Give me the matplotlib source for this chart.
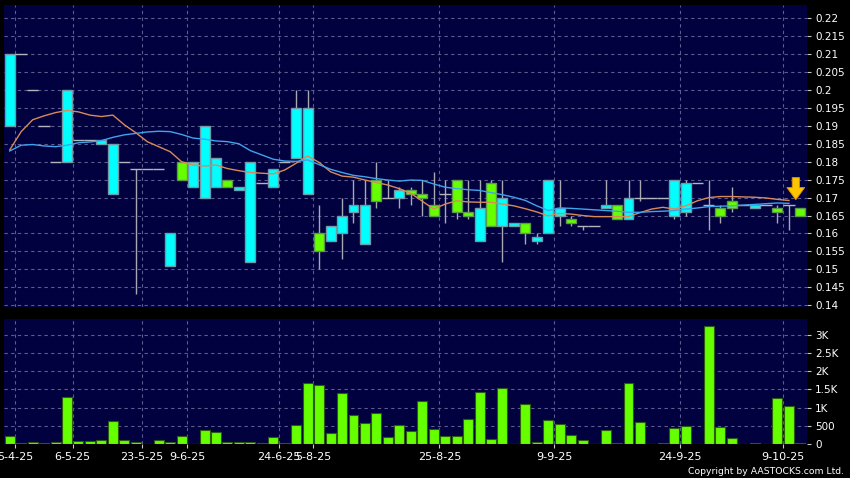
import numpy as np
import matplotlib
matplotlib.use("Agg")
import matplotlib.pyplot as plt
from matplotlib.patches import Rectangle

# daily prices (one entry per trading slot)
opens = [0.210, 0.210, 0.200, 0.190, 0.180, 0.200, 0.186, 0.186, 0.186, 0.185,
         0.180, 0.178, 0.178, 0.178, 0.160, 0.175, 0.180, 0.190, 0.181, 0.173,
         0.173, 0.180, 0.174, 0.178, 0.180, 0.195, 0.195, 0.155, 0.162, 0.165,
         0.168, 0.168, 0.169, 0.170, 0.172, 0.171, 0.170, 0.165, 0.171, 0.166,
         0.165, 0.167, 0.162, 0.170, 0.163, 0.160, 0.159, 0.175, 0.167, 0.163,
         0.162, 0.162, 0.168, 0.164, 0.170, 0.170, 0.170, 0.170, 0.175, 0.174,
         0.174, 0.168, 0.165, 0.167, 0.168, 0.168, 0.168, 0.166, 0.168, 0.165]
closes = [0.190, 0.210, 0.200, 0.190, 0.180, 0.180, 0.186, 0.186, 0.185, 0.171,
          0.180, 0.178, 0.178, 0.178, 0.151, 0.180, 0.173, 0.170, 0.173, 0.175,
          0.172, 0.152, 0.174, 0.173, 0.180, 0.181, 0.171, 0.160, 0.158, 0.160,
          0.166, 0.157, 0.175, 0.170, 0.170, 0.172, 0.171, 0.168, 0.171, 0.175,
          0.166, 0.158, 0.174, 0.162, 0.162, 0.163, 0.158, 0.160, 0.165, 0.164,
          0.162, 0.162, 0.167, 0.168, 0.164, 0.170, 0.170, 0.170, 0.165, 0.166,
          0.174, 0.168, 0.167, 0.169, 0.168, 0.167, 0.168, 0.167, 0.168, 0.167]
highs = [0.210, 0.210, 0.200, 0.190, 0.180, 0.200, 0.186, 0.186, 0.186, 0.185,
         0.180, 0.178, 0.178, 0.178, 0.160, 0.180, 0.180, 0.190, 0.181, 0.175,
         0.173, 0.180, 0.174, 0.178, 0.180, 0.200, 0.200, 0.168, 0.162, 0.170,
         0.175, 0.175, 0.180, 0.175, 0.173, 0.173, 0.175, 0.177, 0.175, 0.175,
         0.175, 0.175, 0.175, 0.175, 0.163, 0.163, 0.160, 0.175, 0.175, 0.165,
         0.162, 0.162, 0.175, 0.168, 0.175, 0.175, 0.170, 0.170, 0.175, 0.175,
         0.174, 0.175, 0.168, 0.173, 0.168, 0.168, 0.168, 0.168, 0.168, 0.167]
lows = [0.190, 0.210, 0.200, 0.190, 0.180, 0.180, 0.186, 0.186, 0.185, 0.171,
        0.180, 0.143, 0.178, 0.178, 0.151, 0.175, 0.173, 0.170, 0.173, 0.173,
        0.172, 0.152, 0.174, 0.173, 0.180, 0.181, 0.171, 0.150, 0.158, 0.153,
        0.163, 0.157, 0.167, 0.170, 0.167, 0.168, 0.165, 0.165, 0.163, 0.164,
        0.164, 0.158, 0.162, 0.152, 0.162, 0.157, 0.157, 0.160, 0.162, 0.162,
        0.161, 0.162, 0.167, 0.164, 0.164, 0.169, 0.170, 0.170, 0.164, 0.165,
        0.174, 0.161, 0.163, 0.166, 0.168, 0.167, 0.168, 0.163, 0.161, 0.165]
volumes = [210, 20, 60, 15, 45, 1280, 90, 75, 100, 640,
           100, 65, 0, 100, 45, 210, 0, 375, 330, 65,
           55, 65, 20, 190, 15, 520, 1680, 1630, 310, 1390,
           790, 570, 860, 200, 530, 365, 1170, 400, 230, 230,
           695, 1430, 130, 1545, 0, 1100, 45, 670, 540, 255,
           100, 0, 395, 35, 1665, 595, 0, 35, 440, 495,
           0, 3250, 475, 175, 0, 25, 0, 1260, 1035, 25]

# moving averages
ma_short = [0.1833, 0.1884, 0.1917, 0.1928, 0.1937, 0.1943, 0.1939, 0.1930, 0.1926, 0.1930,
            0.1903, 0.1881, 0.1856, 0.1842, 0.1828, 0.1800, 0.1791, 0.1788, 0.1791, 0.1781,
            0.1775, 0.1770, 0.1768, 0.1766, 0.1777, 0.1796, 0.1816, 0.1798, 0.1772, 0.1760,
            0.1757, 0.1749, 0.1742, 0.1735, 0.1725, 0.1712, 0.1690, 0.1668, 0.1682, 0.1691,
            0.1688, 0.1687, 0.1687, 0.1682, 0.1677, 0.1669, 0.1660, 0.1649, 0.1656, 0.1654,
            0.1650, 0.1647, 0.1647, 0.1647, 0.1647, 0.1658, 0.1668, 0.1673, 0.1668, 0.1677,
            0.1691, 0.1700, 0.1703, 0.1703, 0.1702, 0.1701, 0.1699, 0.1695, 0.1692]
ma_long = [0.1830, 0.1846, 0.1848, 0.1844, 0.1842, 0.1846, 0.1853, 0.1855, 0.1859, 0.1868,
           0.1875, 0.1879, 0.1883, 0.1885, 0.1884, 0.1876, 0.1866, 0.1863, 0.1858, 0.1856,
           0.1850, 0.1831, 0.1819, 0.1807, 0.1802, 0.1801, 0.1805, 0.1792, 0.1779, 0.1770,
           0.1762, 0.1758, 0.1753, 0.1749, 0.1746, 0.1749, 0.1748, 0.1738, 0.1729, 0.1725,
           0.1722, 0.1720, 0.1714, 0.1708, 0.1701, 0.1692, 0.1677, 0.1664, 0.1671, 0.1670,
           0.1668, 0.1666, 0.1664, 0.1662, 0.1659, 0.1659, 0.1661, 0.1662, 0.1664, 0.1668,
           0.1671, 0.1675, 0.1676, 0.1677, 0.1679, 0.1681, 0.1683, 0.1685, 0.1684]

date_labels = ["5-4-25", "6-5-25", "23-5-25", "9-6-25", "24-6-25",
               "5-8-25", "25-8-25", "9-9-25", "24-9-25", "9-10-25"]
date_slots = [0, 5, 11, 15, 23, 26, 37, 47, 58, 67]

BG = "#010140"
GRID = "#5c5c90"
TXT = "white"

fig = plt.figure(figsize=(8.5, 4.78), dpi=100, facecolor="black")
ax = fig.add_axes([4 / 850, 1 - 307 / 478, 802.7 / 850, 302 / 478])
axv = fig.add_axes([4 / 850, 1 - 444 / 478, 802.7 / 850, 125 / 478])

n = len(opens)
x = np.arange(n)
gx = np.array(date_slots) + 0.5

for a in (ax, axv):
    a.set_facecolor(BG)
    for s in a.spines.values():
        s.set_visible(False)
    a.set_xlim(-0.5, 69.55)
    a.set_xticks(gx)
    a.grid(True, color=GRID, linestyle=(0, (3, 3)), linewidth=0.8)
    a.set_axisbelow(True)
    a.yaxis.tick_right()
    a.tick_params(axis="y", colors="#c8c8c8", labelcolor=TXT, length=3, pad=3, labelsize=7.5)

# candles
w = 0.87
for i in range(n):
    o, c, h, l = opens[i], closes[i], highs[i], lows[i]
    if h > max(o, c) or l < min(o, c):
        ax.vlines(i, l, h, color="#a8a8b0", linewidth=1, zorder=2)
    if o == c:
        ax.hlines(o, i - 0.5, i + 0.5, color="#b4b4bc", linewidth=1, zorder=3)
    else:
        col = "#66ff00" if c > o else "#00ffff"
        ec = "#5a9a4a" if c > o else "#6f9aa8"
        ax.add_patch(Rectangle((i - w / 2, min(o, c)), w, abs(c - o),
                               facecolor=col, edgecolor=ec, linewidth=1, zorder=3))

ax.plot(np.arange(len(ma_short)), ma_short, color="#d98a58", linewidth=1, zorder=4)
ax.plot(np.arange(len(ma_long)), ma_long, color="#3fa4ea", linewidth=1, zorder=4)

ax.annotate("", xy=(n - 1.4, 0.1694), xytext=(n - 1.4, 0.1756),
            arrowprops=dict(arrowstyle="simple,head_length=1.1,head_width=1.6,tail_width=0.65",
                            fc="#ffc400", ec="#d89000", lw=0.6, mutation_scale=8,
                            shrinkA=0, shrinkB=0),
            zorder=6)

ax.set_ylim(0.1395, 0.2237)
pt = np.round(np.arange(0.14, 0.2201, 0.005), 3)
ax.set_yticks(pt)
ax.set_yticklabels([f"{v:.3f}".rstrip("0").rstrip(".") for v in pt])
ax.tick_params(axis="x", bottom=False, labelbottom=False)

# volume
axv.bar(x, volumes, width=w, color="#66ff00", edgecolor="#2c5a10", linewidth=0.8, zorder=3)
axv.set_ylim(0, 3430)
vt = np.arange(0, 3001, 500)
axv.set_yticks(vt)
axv.set_yticklabels(["0" if v == 0 else (str(v) if v < 1000 else f"{v / 1000:g}K") for v in vt])
axv.set_xticklabels(date_labels)
axv.tick_params(axis="x", colors="#c8c8c8", labelcolor=TXT, length=3, pad=3, labelsize=8)

fig.text(0.993, 0.0146, "Copyright by AASTOCKS.com Ltd.", color=TXT, fontsize=6.7,
         ha="right", va="center")

fig.savefig("out.png", dpi=100, facecolor="black")
